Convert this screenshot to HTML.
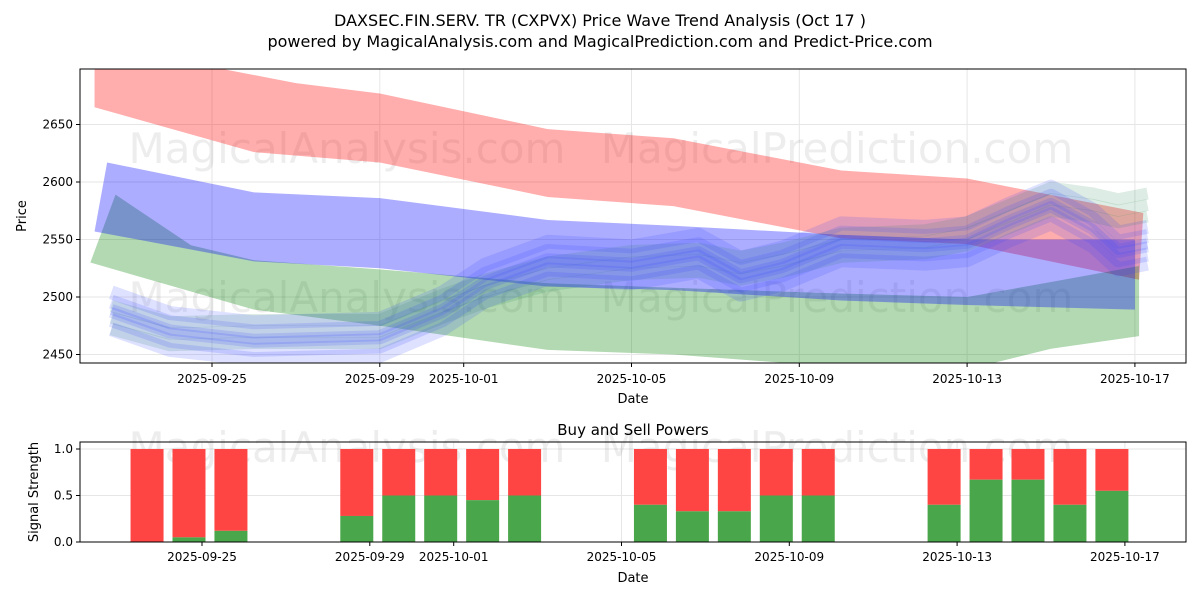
<!DOCTYPE html>
<html><head><meta charset="utf-8"><style>
body{margin:0;background:#fff;font-family:"Liberation Sans","DejaVu Sans",sans-serif}
svg text{font-family:"DejaVu Sans","Liberation Sans",sans-serif}
</style></head><body>
<svg id="c" width="1200" height="600" xmlns="http://www.w3.org/2000/svg">
<text x="600" y="26" font-size="16" text-anchor="middle">DAXSEC.FIN.SERV. TR (CXPVX) Price Wave Trend Analysis (Oct 17 )</text>
<text x="600" y="47" font-size="16" text-anchor="middle">powered by MagicalAnalysis.com and MagicalPrediction.com and Predict-Price.com</text>
<g id="topg"></g><g id="botg"></g>
</svg>
<script>
// ---- data (day numbers: days since 2025-09-01, i.e. Sep 25 = 24, Oct 1 = 30) ----
const redDays=[21.2,24,26,28,32,35,39,42,46.2];
const redUpper=[2705,2700,2686,2677,2646,2638,2610,2603,2573];
const redLowDays=[21.2,25,28,32,35,39,42,46.1];
const redLower=[2665,2626,2617,2587,2579,2551,2546,2515];
const blueDays=[21.5,25,28,32,35,39,42,46];
const blueUpper=[2617,2591,2586,2567,2562,2554,2550,2550];
const blueLowDays=[21.2,25,28,32,35,39,42,46];
const blueLower=[2557,2531,2525,2509,2506,2497,2493,2489];
const greenDays=[21.7,23.5,25,28,32,35,39,42,44,46.1];
const greenUpper=[2589,2545,2532,2524,2512,2508,2503,2500,2513,2527];
const greenLowDays=[21.1,25,28,32,35,39,42,44,46.1];
const greenLower=[2530,2489,2475,2454,2450,2439,2437,2455,2466];
const waveDays=[21.6,23,25,28,29.5,30.5,32,34,35.6,36.6,37.6,39,41,42,43,44,45,45.6,46.3];
const waveMid=[2488,2470,2462,2465,2488,2512,2532,2528,2538,2518,2527,2548,2545,2548,2565,2580,2560,2540,2545];
const greenWave=[2482,2468,2470,2470,2492,2505,2520,2530,2532,2525,2532,2545,2548,2555,2570,2585,2580,2575,2580];
const yTicks=[2450,2500,2550,2600,2650];
const xTickDays=[24,28,30,34,38,42,46];
const xTickLabels=["2025-09-25","2025-09-29","2025-10-01","2025-10-05","2025-10-09","2025-10-13","2025-10-17"];
const barDays=[22,23,24,27,28,29,30,31,34,35,36,37,38,41,42,43,44,45];
const buyPower=[0,0.05,0.12,0.28,0.5,0.5,0.45,0.5,0.4,0.33,0.33,0.5,0.5,0.4,0.67,0.67,0.4,0.55];
const sigTicks=[0,0.5,1.0];

const NS="http://www.w3.org/2000/svg";
function mk(p,t,a,txt){const e=document.createElementNS(NS,t);for(const k in a)e.setAttribute(k,a[k]);if(txt!==undefined)e.textContent=txt;p.appendChild(e);return e;}
const topG=document.getElementById('topg'),botG=document.getElementById('botg');
const L=80,R=1186,T=69,B=363;
const X=d=>212+(d-24)*41.95, Y=v=>297-(v-2500)*1.15;
const X2=d=>202+(d-24)*41.95, Y2=v=>542-v*93;
let cp=mk(topG,'clipPath',{id:'cp'});mk(cp,'rect',{x:L,y:T,width:R-L,height:B-T});
yTicks.forEach(v=>{let gl=mk(topG,'line',{x1:L,x2:R,y1:Y(v),y2:Y(v),stroke:'#e6e6e6'});
 
 
 mk(topG,'line',{x1:L-4,x2:L,y1:Y(v),y2:Y(v),stroke:'#000'});
 let t=mk(topG,'text',{x:L-7,y:Y(v)+4,'font-size':12,'text-anchor':'end'},v);
 
 });
xTickDays.forEach((d,i)=>{mk(topG,'line',{x1:X(d),x2:X(d),y1:T,y2:B,stroke:'#e6e6e6'});
 mk(topG,'line',{x1:X(d),x2:X(d),y1:B,y2:B+4,stroke:'#000'});
 let t=mk(topG,'text',{x:X(d),y:B+20,'font-size':12,'text-anchor':'middle'},xTickLabels[i]);
 
 });
[[347,163,'MagicalAnalysis.com'],[837,163,'MagicalPrediction.com'],[347,312,'MagicalAnalysis.com'],[837,312,'MagicalPrediction.com']].forEach(w=>{
 const wm=mk(topG,'text',{x:w[0],y:w[1],'font-size':42,fill:'#000','fill-opacity':0.07,'text-anchor':'middle'},w[2]);
 
 });
const g=mk(topG,'g',{'clip-path':'url(#cp)'});
function band(ud,u,ld,l,col,op,name){let pts=ud.map((d,i)=>X(d)+','+Y(u[i]));for(let i=ld.length-1;i>=0;i--)pts.push(X(ld[i])+','+Y(l[i]));
 const p=mk(g,'polygon',{points:pts.join(' '),fill:col,'fill-opacity':op});
 
 }
band(redDays,redUpper,redLowDays,redLower,'#ff0000',0.32,'red-band');
band(greenDays,greenUpper,greenLowDays,greenLower,'#008000',0.3,'green-band');
band(blueDays,blueUpper,blueLowDays,blueLower,'#0000ff',0.32,'blue-band');
function wave(vals,col,off,w,op,name){const pts=waveDays.map((d,i)=>X(d)+','+Y(vals[i]+off)).join(' ');
 const p=mk(g,'polyline',{points:pts,fill:'none',stroke:col,'stroke-width':w,'stroke-opacity':op,'stroke-linejoin':'round'});
 
 }
[-10,0,10].forEach(o=>wave(greenWave,'#2e8b57',o,12,0.16,'green-wave-line'));
[-16,-8,0,8,16].forEach(o=>wave(waveMid,'#3344ff',o,14,0.16,'blue-wave-line'));
wave(waveMid,'#4455ff',0,8,0.2,'blue-wave-core');
mk(topG,'rect',{x:L,y:T,width:R-L,height:B-T,fill:'none',stroke:'#000'});
const xt=mk(topG,'text',{x:633,y:403,'font-size':13,'text-anchor':'middle'},'Date');


const yt=mk(topG,'text',{x:26,y:216,'font-size':13,'text-anchor':'middle',transform:'rotate(-90 26 216)'},'Price');


// bottom
const L2=80,R2=1186,T2=442,B2=542;
const st=mk(botG,'text',{x:633,y:435,'font-size':15,'text-anchor':'middle'},'Buy and Sell Powers');


sigTicks.forEach(v=>{mk(botG,'line',{x1:L2,x2:R2,y1:Y2(v),y2:Y2(v),stroke:'#e6e6e6'});mk(botG,'line',{x1:L2-4,x2:L2,y1:Y2(v),y2:Y2(v),stroke:'#000'});
 mk(botG,'text',{x:L2-7,y:Y2(v)+4,'font-size':12,'text-anchor':'end'},v.toFixed(1));});
xTickDays.forEach((d,i)=>{mk(botG,'line',{x1:X2(d),x2:X2(d),y1:T2,y2:B2,stroke:'#e6e6e6'});mk(botG,'line',{x1:X2(d),x2:X2(d),y1:B2,y2:B2+4,stroke:'#000'});
 mk(botG,'text',{x:X2(d),y:B2+19,'font-size':12,'text-anchor':'middle'},xTickLabels[i]);});
mk(botG,'text',{x:347,y:462,'font-size':42,'fill-opacity':0.07,'text-anchor':'middle'},'MagicalAnalysis.com');
mk(botG,'text',{x:837,y:462,'font-size':42,'fill-opacity':0.07,'text-anchor':'middle'},'MagicalPrediction.com');
barDays.forEach((d,i)=>{const cx=X2(d+0.69),w=33;
 const r=mk(botG,'rect',{x:cx-w/2,y:Y2(1),width:w,height:Y2(buyPower[i])-Y2(1),fill:'#ff4444'});
 
 
 const gr=mk(botG,'rect',{x:cx-w/2,y:Y2(buyPower[i]),width:w,height:Y2(0)-Y2(buyPower[i]),fill:'#4aa64a'});
 
 });
mk(botG,'rect',{x:L2,y:T2,width:R2-L2,height:B2-T2,fill:'none',stroke:'#000'});
const xb=mk(botG,'text',{x:633,y:582,'font-size':13,'text-anchor':'middle'},'Date');


const yb=mk(botG,'text',{x:38,y:492,'font-size':13,'text-anchor':'middle',transform:'rotate(-90 38 492)'},'Signal Strength');


</script>
</body></html>
